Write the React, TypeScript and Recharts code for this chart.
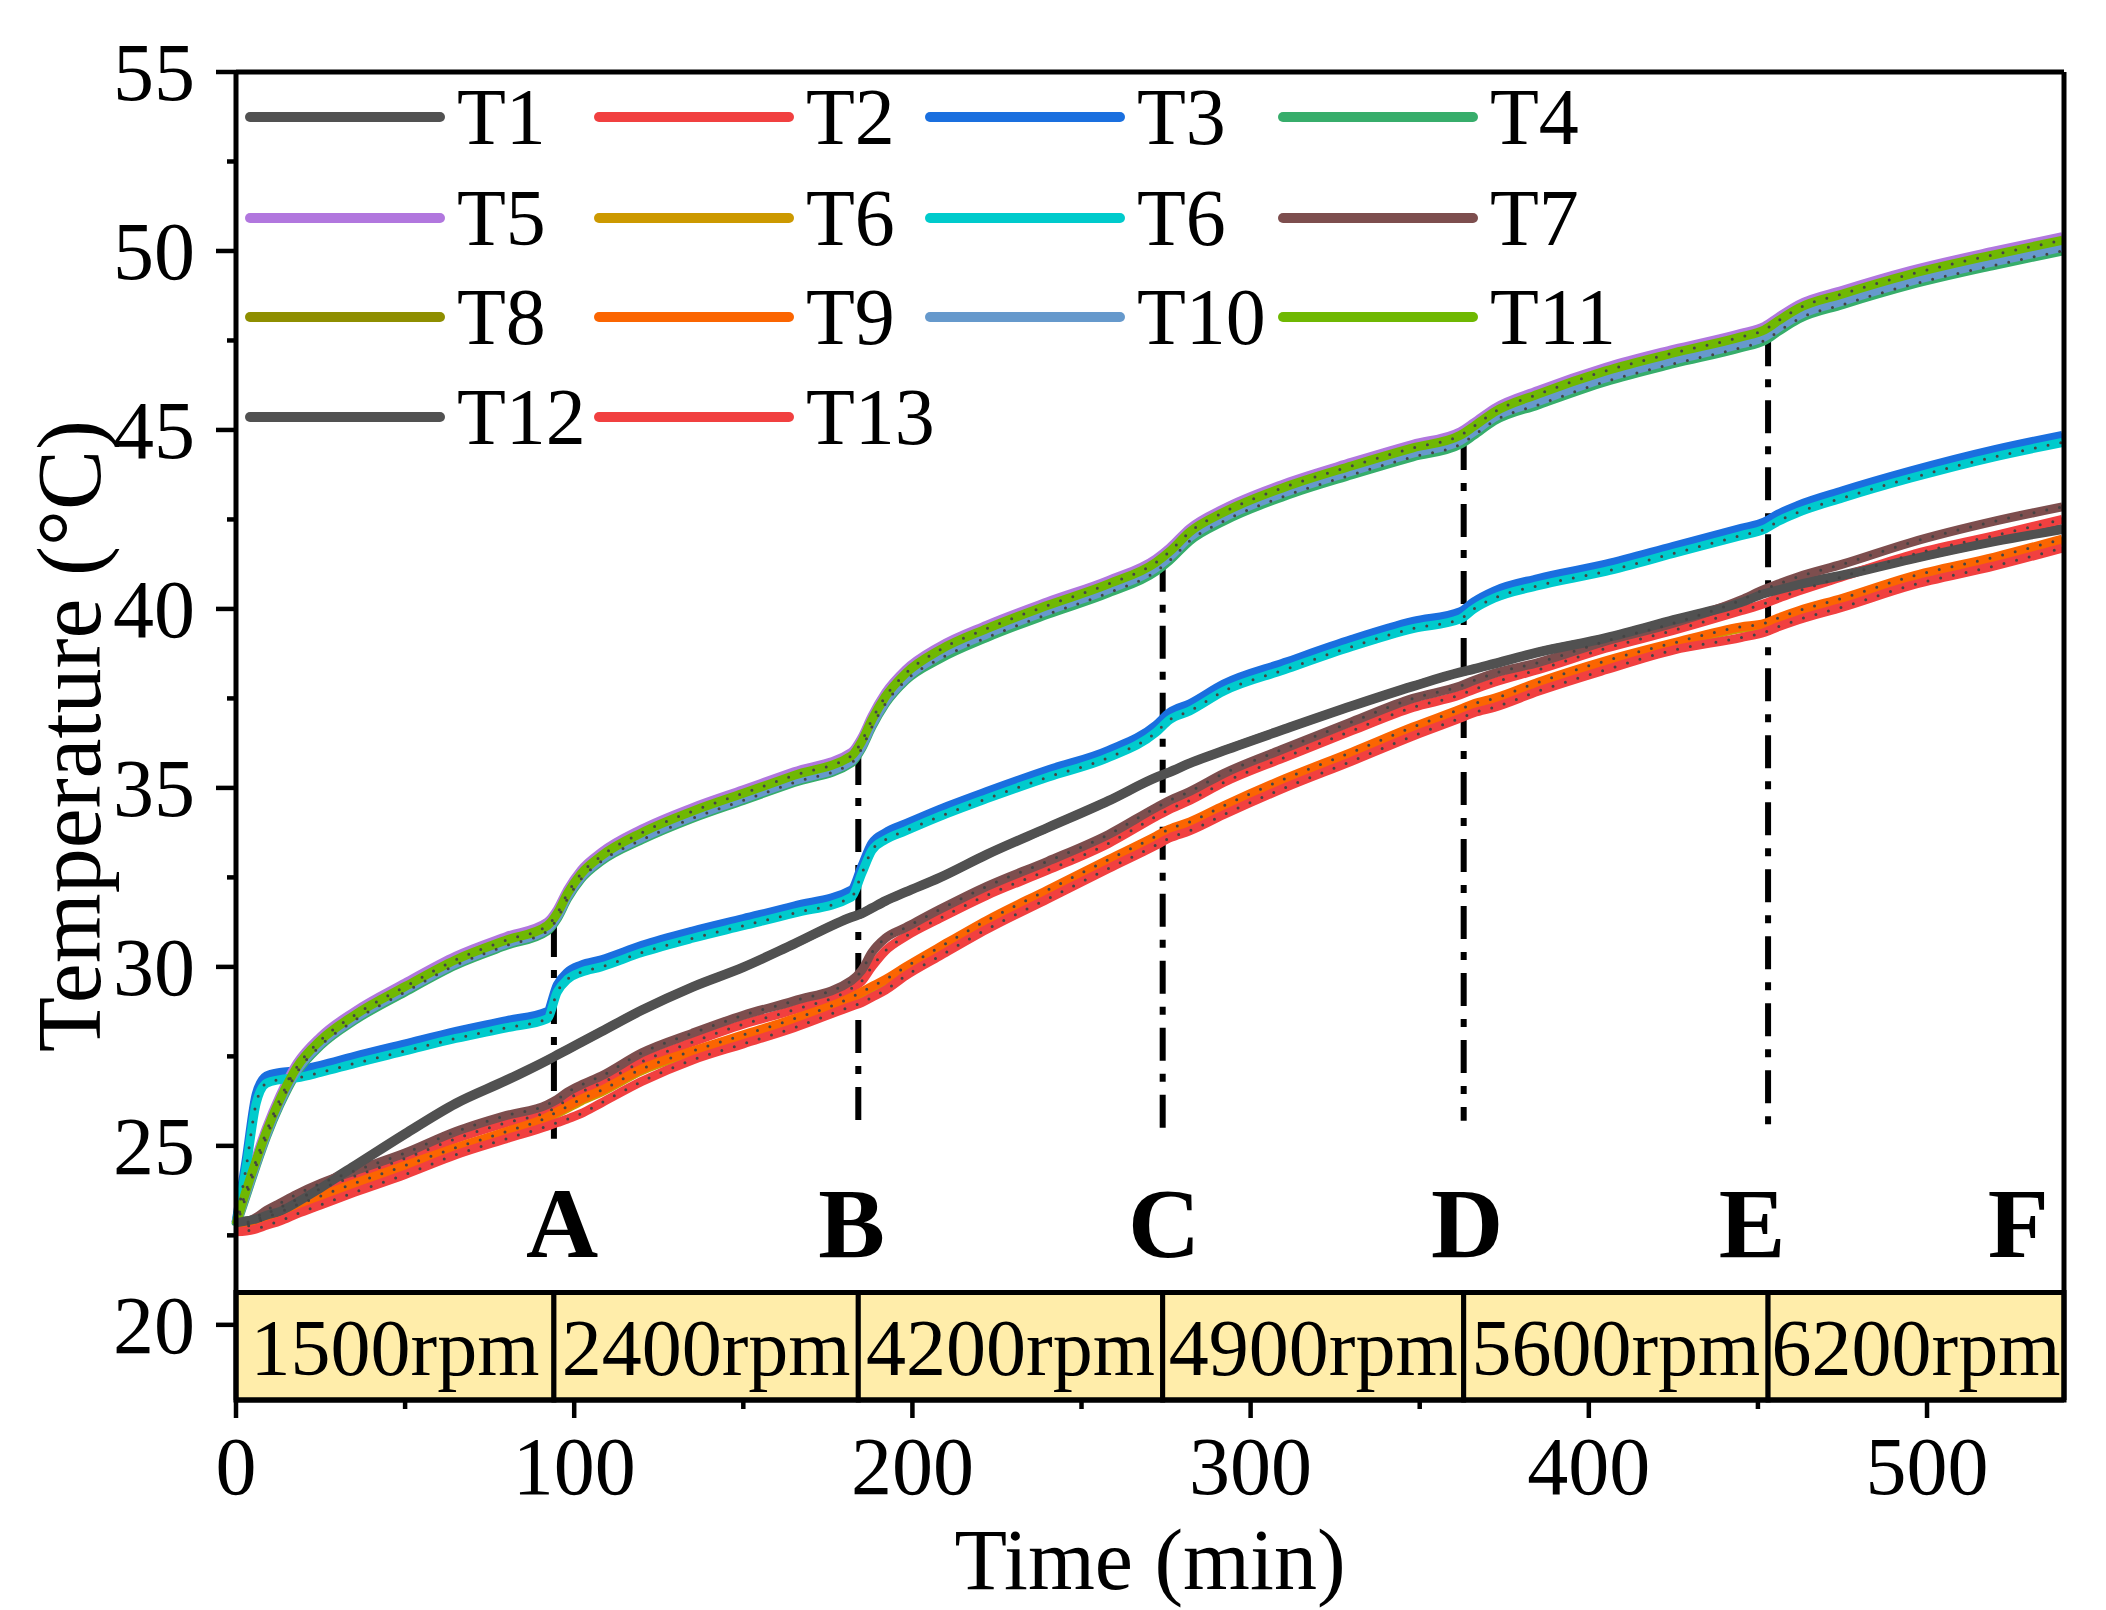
import React from 'react';
import {
  LineChart,
  Line,
  XAxis,
  YAxis,
  Label,
  ReferenceArea,
  ReferenceLine,
  ReferenceDot,
} from 'recharts';

const W = 2106;
const H = 1610;
const FONT = '"Liberation Serif", "Times New Roman", serif';

// Time samples (min)
const TIME = [
  0, 3, 6, 9, 13, 18, 25, 35, 50, 65, 80, 92, 95, 98, 102, 108, 120, 135, 150, 165,
  182, 185, 188, 192, 198, 208, 222, 240, 258, 272, 276, 282, 292, 310, 330, 348, 362, 366, 372, 385,
  405, 425, 445, 452, 456, 462, 475, 495, 520, 540,
];

// Temperatures (°C)
const T1 = [
  22.85, 22.9, 22.95, 23.05, 23.15, 23.4, 23.85, 24.45, 25.35, 26.2, 26.85, 27.4, 27.55, 27.7, 27.9, 28.2, 28.8, 29.45, 30.0, 30.65,
  31.4, 31.5, 31.65, 31.85, 32.1, 32.5, 33.15, 33.9, 34.65, 35.3, 35.45, 35.7, 36.05, 36.65, 37.3, 37.85, 38.24, 38.33, 38.48, 38.8,
  39.2, 39.7, 40.2, 40.45, 40.55, 40.7, 40.95, 41.4, 41.9, 42.25,
];
const T2 = [
  22.7, 22.8, 22.92, 23.1, 23.28, 23.5, 23.8, 24.15, 24.65, 25.2, 25.65, 25.95, 26.1, 26.3, 26.5, 26.75, 27.35, 27.9, 28.4, 28.8,
  29.4, 29.6, 30.0, 30.45, 30.85, 31.35, 32.0, 32.7, 33.45, 34.2, 34.4, 34.65, 35.15, 35.85, 36.6, 37.25, 37.6, 37.75, 37.95, 38.3,
  38.9, 39.4, 39.95, 40.15, 40.3, 40.5, 40.9, 41.5, 42.05, 42.5,
];
const T3 = [
  22.85, 24.6, 26.45, 26.95, 27.05, 27.1, 27.25, 27.5, 27.85, 28.2, 28.5, 28.75, 29.5, 29.85, 30.05, 30.2, 30.6, 31.0, 31.35, 31.7,
  32.15, 32.8, 33.45, 33.75, 34.0, 34.4, 34.9, 35.5, 36.05, 36.75, 37.1, 37.35, 37.9, 38.5, 39.15, 39.65, 39.92, 40.2, 40.5, 40.85,
  41.25, 41.75, 42.25, 42.43, 42.65, 42.9, 43.3, 43.85, 44.45, 44.85,
];
const T4 = [
  22.75, 23.6, 24.45, 25.25, 26.15, 27.05, 27.8, 28.5, 29.3, 30.05, 30.6, 31.0, 31.35, 31.9, 32.45, 32.95, 33.55, 34.15, 34.65, 35.15,
  35.7, 36.1, 36.7, 37.35, 38.0, 38.6, 39.2, 39.85, 40.45, 41.05, 41.35, 41.9, 42.45, 43.15, 43.75, 44.25, 44.6, 44.85, 45.25, 45.7,
  46.35, 46.85, 47.3, 47.5, 47.75, 48.1, 48.5, 49.05, 49.6, 50.0,
];
const T5 = [
  22.85, 23.85, 24.7, 25.5, 26.4, 27.3, 28.05, 28.75, 29.55, 30.3, 30.85, 31.25, 31.6, 32.15, 32.7, 33.2, 33.85, 34.45, 34.95, 35.45,
  36.0, 36.4, 37.0, 37.65, 38.3, 38.95, 39.55, 40.2, 40.8, 41.4, 41.7, 42.25, 42.8, 43.5, 44.1, 44.6, 44.95, 45.2, 45.6, 46.1,
  46.75, 47.25, 47.7, 47.9, 48.15, 48.5, 48.9, 49.45, 50.0, 50.4,
];
const T6_GOLD = [
  22.7, 22.74, 22.83, 22.97, 23.12, 23.32, 23.57, 23.9, 24.4, 24.9, 25.35, 25.75, 25.9, 26.05, 26.25, 26.5, 27.1, 27.6, 28.05, 28.5,
  29.1, 29.25, 29.4, 29.6, 29.95, 30.5, 31.25, 32.1, 32.95, 33.6, 33.8, 34.0, 34.45, 35.2, 35.95, 36.65, 37.15, 37.3, 37.45, 37.9,
  38.5, 39.0, 39.45, 39.55, 39.7, 39.9, 40.25, 40.85, 41.4, 41.9,
];
const T6_CYAN = [
  22.8, 24.4, 26.2, 26.75, 26.85, 26.9, 27.05, 27.3, 27.65, 28.0, 28.3, 28.55, 29.3, 29.65, 29.85, 30.0, 30.4, 30.8, 31.15, 31.5,
  31.95, 32.6, 33.25, 33.55, 33.8, 34.2, 34.7, 35.3, 35.85, 36.55, 36.9, 37.15, 37.7, 38.3, 38.95, 39.45, 39.72, 40.0, 40.3, 40.65,
  41.05, 41.55, 42.05, 42.23, 42.45, 42.7, 43.1, 43.65, 44.25, 44.65,
];
const T7 = [
  22.75, 22.85, 23.0, 23.2, 23.4, 23.65, 23.95, 24.3, 24.8, 25.4, 25.85, 26.15, 26.3, 26.5, 26.7, 26.95, 27.6, 28.15, 28.65, 29.05,
  29.62, 29.9, 30.4, 30.8, 31.1, 31.6, 32.25, 32.95, 33.7, 34.45, 34.65, 34.9, 35.4, 36.1, 36.85, 37.5, 37.85, 38.0, 38.2, 38.5,
  39.1, 39.6, 40.25, 40.55, 40.7, 40.9, 41.25, 41.85, 42.45, 42.85,
];
const T8 = [
  22.8, 23.7, 24.55, 25.35, 26.25, 27.15, 27.9, 28.6, 29.4, 30.15, 30.7, 31.1, 31.45, 32.0, 32.55, 33.05, 33.7, 34.3, 34.8, 35.3,
  35.85, 36.25, 36.85, 37.5, 38.15, 38.8, 39.4, 40.05, 40.65, 41.25, 41.55, 42.1, 42.65, 43.35, 43.95, 44.45, 44.8, 45.05, 45.45, 45.95,
  46.6, 47.1, 47.55, 47.75, 48.0, 48.35, 48.75, 49.3, 49.85, 50.25,
];
const T9 = [
  22.7, 22.75, 22.85, 23.0, 23.15, 23.35, 23.6, 23.95, 24.45, 24.95, 25.4, 25.8, 25.95, 26.1, 26.3, 26.55, 27.15, 27.65, 28.1, 28.55,
  29.15, 29.3, 29.45, 29.65, 30.0, 30.55, 31.3, 32.15, 33.0, 33.65, 33.85, 34.05, 34.5, 35.25, 36.0, 36.7, 37.2, 37.35, 37.5, 37.95,
  38.55, 39.05, 39.5, 39.6, 39.75, 39.95, 40.3, 40.9, 41.45, 41.95,
];
const T10 = [
  22.8, 23.65, 24.5, 25.3, 26.2, 27.1, 27.85, 28.55, 29.35, 30.1, 30.65, 31.05, 31.4, 31.95, 32.5, 33.0, 33.6, 34.2, 34.7, 35.2,
  35.75, 36.15, 36.75, 37.4, 38.05, 38.7, 39.3, 39.95, 40.55, 41.15, 41.45, 42.0, 42.55, 43.25, 43.85, 44.35, 44.7, 44.95, 45.35, 45.8,
  46.45, 46.95, 47.4, 47.6, 47.85, 48.2, 48.6, 49.15, 49.7, 50.1,
];
const T11 = [
  22.8, 23.75, 24.6, 25.4, 26.3, 27.2, 27.95, 28.65, 29.45, 30.2, 30.75, 31.15, 31.5, 32.05, 32.6, 33.1, 33.75, 34.35, 34.85, 35.35,
  35.9, 36.3, 36.9, 37.55, 38.2, 38.85, 39.45, 40.1, 40.7, 41.3, 41.6, 42.15, 42.7, 43.4, 44.0, 44.5, 44.85, 45.1, 45.5, 46.0,
  46.65, 47.15, 47.6, 47.8, 48.05, 48.4, 48.8, 49.35, 49.9, 50.3,
];
const T12 = [
  22.85, 22.9, 22.96, 23.06, 23.17, 23.42, 23.82, 24.42, 25.32, 26.17, 26.82, 27.38, 27.53, 27.68, 27.88, 28.18, 28.78, 29.43, 29.98, 30.63,
  31.38, 31.48, 31.63, 31.83, 32.08, 32.48, 33.13, 33.88, 34.63, 35.28, 35.43, 35.68, 36.03, 36.63, 37.28, 37.83, 38.22, 38.31, 38.46, 38.78,
  39.18, 39.68, 40.18, 40.43, 40.53, 40.68, 40.93, 41.38, 41.88, 42.22,
];
const T13 = [
  22.6, 22.62, 22.68, 22.78, 22.9, 23.1, 23.35, 23.7, 24.2, 24.75, 25.2, 25.55, 25.65, 25.75, 25.9, 26.2, 26.8, 27.4, 27.85, 28.3,
  28.9, 29.0, 29.15, 29.35, 29.75, 30.3, 31.05, 31.9, 32.75, 33.4, 33.6, 33.8, 34.25, 35.0, 35.75, 36.45, 36.95, 37.1, 37.25, 37.7,
  38.3, 38.85, 39.2, 39.35, 39.5, 39.7, 40.05, 40.65, 41.2, 41.7,
];

const SERIES = [
  { key: 'T1', name: 'T1', color: '#515151', values: T1 },
  { key: 'T2', name: 'T2', color: '#F14040', values: T2 },
  { key: 'T3', name: 'T3', color: '#1A6FDF', values: T3 },
  { key: 'T4', name: 'T4', color: '#37AD6B', values: T4 },
  { key: 'T5', name: 'T5', color: '#B177DE', values: T5 },
  { key: 'T6a', name: 'T6', color: '#CC9900', values: T6_GOLD },
  { key: 'T6b', name: 'T6', color: '#00CBCC', values: T6_CYAN },
  { key: 'T7', name: 'T7', color: '#7D4E4E', values: T7 },
  { key: 'T8', name: 'T8', color: '#8E8E00', values: T8 },
  { key: 'T9', name: 'T9', color: '#FB6501', values: T9 },
  { key: 'T10', name: 'T10', color: '#6699CC', values: T10 },
  { key: 'T11', name: 'T11', color: '#6FB802', values: T11 },
  { key: 'T12', name: 'T12', color: '#515151', values: T12 },
  { key: 'T13', name: 'T13', color: '#F14040', values: T13 },
];

// series that carry the dark dotted pattern on top
const DOTTED = ['T2', 'T4', 'T6b', 'T7', 'T9', 'T11', 'T13'];

// speed stages along the bottom band
const STAGE_EDGES = [0, 94, 184, 274, 363, 453, 540.5];
const STAGE_LABELS = ['1500rpm', '2400rpm', '4200rpm', '4900rpm', '5600rpm', '6200rpm'];

// dash-dot markers at the speed changes
const MARK_TOP = [31.2, 36.0, 41.4, 44.8, 47.7];
const MARK_BOTTOM = [25.2, 25.4, 25.2, 25.7, 25.4];

const LETTERS = ['A', 'B', 'C', 'D', 'E', 'F'];
const LETTER_T = [96.4, 182, 274.4, 364, 448.3, 527];
const LETTER_Y = 22.9;

const Y_MIN = 17.9;
const Y_MAX = 55;
const X_MAX = 540.5;
const BAND_TOP = 20.9;
const Y_TICKS = [20, 22.5, 25, 27.5, 30, 32.5, 35, 37.5, 40, 42.5, 45, 47.5, 50, 52.5, 55];
const X_TICKS = [0, 50, 100, 150, 200, 250, 300, 350, 400, 450, 500];

const rows = TIME.map((t, i) => {
  const r: Record<string, number> = { t };
  SERIES.forEach((s) => {
    r[s.key] = s.values[i];
  });
  return r;
});

const YTick = (props: any) => {
  const { x, y, payload } = props;
  const ax = x + 41;
  const major = payload.value % 5 === 0;
  return (
    <g>
      <line x1={ax - (major ? 20 : 9)} x2={ax} y1={y} y2={y} stroke="#000" strokeWidth={4.5} />
      {major && (
        <text x={x} y={y} dy={28} textAnchor="end" fontSize={82} fontFamily={FONT} fill="#000">
          {payload.value}
        </text>
      )}
    </g>
  );
};

const XTick = (props: any) => {
  const { x, y, payload } = props;
  const ay = y - 41;
  const major = payload.value % 100 === 0;
  return (
    <g>
      <line x1={x} x2={x} y1={ay} y2={ay + (major ? 18 : 9)} stroke="#000" strokeWidth={4.5} />
      {major && (
        <text x={x} y={y + 53} textAnchor="middle" fontSize={82} fontFamily={FONT} fill="#000">
          {payload.value}
        </text>
      )}
    </g>
  );
};

// legend layout, 4 columns like the original
const LEG_X = [250, 599, 930, 1283];
const LEG_Y = [117, 218, 317, 417];

function LegendOverlay() {
  return (
    <svg width={W} height={H} style={{ position: 'absolute', left: 0, top: 0, pointerEvents: 'none' }}>
      {SERIES.map((s, i) => {
        const x = LEG_X[i % 4];
        const y = LEG_Y[Math.floor(i / 4)];
        return (
          <g key={s.key}>
            <line x1={x} x2={x + 190} y1={y} y2={y} stroke={s.color} strokeWidth={10} strokeLinecap="round" />
            <text x={x + 207} y={y + 27} fontSize={80} fontFamily={FONT} fill="#000">
              {s.name}
            </text>
          </g>
        );
      })}
    </svg>
  );
}

export default function App() {
  return (
    <div style={{ position: 'absolute', left: 0, top: 0, width: W, height: H, background: '#fff' }}>
      <LineChart width={W} height={H} data={rows} margin={{ top: 72, right: 42, bottom: 110, left: 116 }}>
        <XAxis
          dataKey="t"
          type="number"
          domain={[0, X_MAX]}
          ticks={X_TICKS}
          interval={0}
          height={100}
          tickSize={18}
          tickMargin={23}
          tickLine={false}
          tick={<XTick />}
          axisLine={{ stroke: '#000', strokeWidth: 5 }}
        >
          <Label
            content={({ viewBox }: any) => (
              <text
                x={viewBox.x + viewBox.width / 2}
                y={viewBox.y + 189}
                textAnchor="middle"
                fontSize={86}
                fontFamily={FONT}
                fill="#000"
              >
                Time (min)
              </text>
            )}
          />
        </XAxis>
        <YAxis
          type="number"
          domain={[Y_MIN, Y_MAX]}
          ticks={Y_TICKS}
          interval={0}
          width={120}
          tickSize={20}
          tickMargin={21}
          tickLine={false}
          tick={<YTick />}
          axisLine={{ stroke: '#000', strokeWidth: 5 }}
        >
          <Label
            content={({ viewBox }: any) => {
              const cx = viewBox.x - 16;
              const cy = viewBox.y + viewBox.height / 2;
              return (
                <text
                  transform={`translate(${cx}, ${cy}) rotate(-90)`}
                  textAnchor="middle"
                  fontSize={90}
                  fontFamily={FONT}
                  fill="#000"
                >
                  Temperature (°C)
                </text>
              );
            }}
          />
        </YAxis>

        {STAGE_LABELS.map((lab, i) => (
          <ReferenceArea
            key={lab}
            x1={STAGE_EDGES[i]}
            x2={STAGE_EDGES[i + 1]}
            y1={Y_MIN}
            y2={BAND_TOP}
            fill="#FFEDAA"
            fillOpacity={1}
            stroke="#000"
            strokeWidth={5}
            ifOverflow="visible"
            label={{ value: lab, position: 'center', fontSize: 80, fill: '#000', fontFamily: FONT }}
          />
        ))}

        {MARK_TOP.map((top, i) => (
          <ReferenceLine
            key={`mark-${i}`}
            segment={[
              { x: STAGE_EDGES[i + 1], y: top },
              { x: STAGE_EDGES[i + 1], y: MARK_BOTTOM[i] },
            ]}
            stroke="#000"
            strokeWidth={6}
            strokeDasharray="33 13 8 13"
          />
        ))}

        {SERIES.map((s) => (
          <Line
            key={s.key}
            type="monotone"
            dataKey={s.key}
            name={s.name}
            stroke={s.color}
            strokeWidth={9}
            dot={false}
            activeDot={false}
            isAnimationActive={false}
          />
        ))}
        {DOTTED.map((k) => (
          <Line
            key={`dots-${k}`}
            type="monotone"
            dataKey={k}
            stroke="#444"
            strokeWidth={3}
            strokeDasharray="0 13"
            strokeLinecap="round"
            dot={false}
            activeDot={false}
            legendType="none"
            isAnimationActive={false}
          />
        ))}

        {LETTERS.map((l, i) => (
          <ReferenceDot
            key={l}
            x={LETTER_T[i]}
            y={LETTER_Y}
            r={0}
            fill="none"
            stroke="none"
            ifOverflow="visible"
            label={{ value: l, position: 'center', fontSize: 100, fontWeight: 'bold', fill: '#000', fontFamily: FONT }}
          />
        ))}

        <ReferenceLine y={Y_MAX} stroke="#000" strokeWidth={5} ifOverflow="visible" />
        <ReferenceLine x={X_MAX} stroke="#000" strokeWidth={5} ifOverflow="visible" />
      </LineChart>
      <LegendOverlay />
    </div>
  );
}
